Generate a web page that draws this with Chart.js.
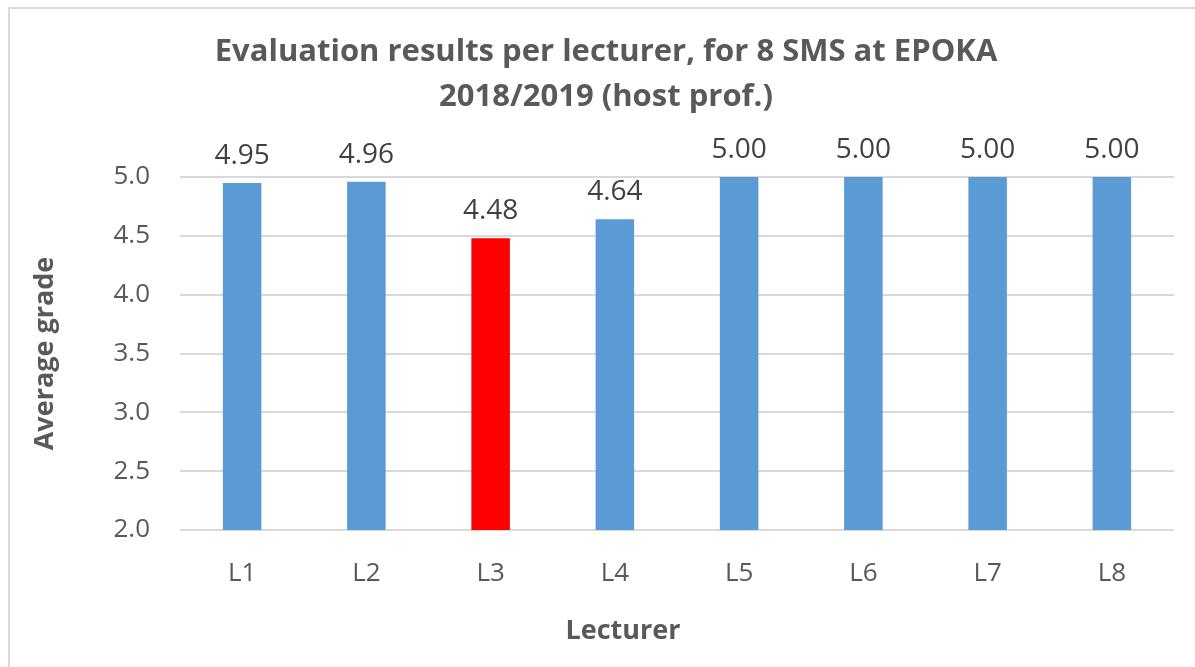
<!DOCTYPE html>
<html>
<head>
<meta charset="utf-8">
<script src="https://cdn.jsdelivr.net/npm/chart.js@4"></script>
<style>
  html, body { margin: 0; padding: 0; background: #fff; overflow: hidden; }
  #frame { position: absolute; left: 8px; top: 7px; width: 1200px; height: 700px;
           border-left: 2px solid #d9d9d9; border-top: 2px solid #d9d9d9; }
  #wrap { position: absolute; left: 0; top: 0; width: 1195px; height: 667px; }
</style>
</head>
<body>
<div id="frame"></div>
<div id="wrap"><canvas id="myChart" width="1195" height="667"></canvas></div>
<script>
var lecturers = ["L1", "L2", "L3", "L4", "L5", "L6", "L7", "L8"];
var grades = [4.95, 4.96, 4.48, 4.64, 5.00, 5.00, 5.00, 5.00];
var barColors = ["#5b9bd5", "#5b9bd5", "#ff0000", "#5b9bd5", "#5b9bd5", "#5b9bd5", "#5b9bd5", "#5b9bd5"];
var titleLines = ["Evaluation results per lecturer, for 8 SMS at EPOKA", "2018/2019 (host prof.)"];
var xTitle = "Lecturer";
var yTitle = "Average grade";

var FONT = "'Open Sans', 'DejaVu Sans', sans-serif";

// value text over each bar
var valueLabels = {
  id: "valueLabels",
  afterDatasetsDraw: function(chart){
    var ctx = chart.ctx;
    var meta = chart.getDatasetMeta(0);
    ctx.save();
    ctx.font = "28px " + FONT;
    ctx.fillStyle = "#404040";
    ctx.textAlign = "center";
    ctx.textBaseline = "alphabetic";
    meta.data.forEach(function(bar, i){
      ctx.fillText(grades[i].toFixed(2), bar.x, bar.y - 19);
    });
    ctx.restore();
  }
};

// chart title and x axis title sit a bit left of the plot centre
var headings = {
  id: "headings",
  afterDraw: function(chart){
    var ctx = chart.ctx;
    ctx.save();
    ctx.fillStyle = "#595959";
    ctx.textAlign = "center";
    ctx.textBaseline = "middle";
    ctx.font = "bold 31px " + FONT;
    ctx.fillText(titleLines[0], 606, 52);
    ctx.fillText(titleLines[1], 606, 97);
    ctx.font = "bold 27px " + FONT;
    ctx.fillText(xTitle, 623, 631);
    ctx.restore();
  }
};

var ctx = document.getElementById("myChart");
var chart = new Chart(ctx, {
  type: "bar",
  data: {
    labels: lecturers,
    datasets: [{
      data: grades,
      backgroundColor: barColors,
      borderWidth: 0,
      barPercentage: 1,
      categoryPercentage: 0.31
    }]
  },
  options: {
    responsive: false,
    animation: false,
    layout: { padding: { left: 10, right: 21, top: 177, bottom: 10 } },
    plugins: {
      legend: { display: false },
      tooltip: { enabled: false },
      title: { display: false }
    },
    scales: {
      x: {
        grid: { display: false, drawTicks: false },
        border: { display: false },
        ticks: { color: "#595959", font: { family: FONT, size: 26 }, padding: 28 },
        afterFit: function(scale){ scale.height = 127; }
      },
      y: {
        min: 2,
        max: 5,
        ticks: {
          stepSize: 0.5,
          color: "#595959",
          font: { family: FONT, size: 26 },
          padding: 30,
          callback: function(v){ return v.toFixed(1); }
        },
        grid: { color: "#d9d9d9", lineWidth: 2, drawTicks: false },
        border: { display: false },
        title: {
          display: true,
          text: yTitle,
          color: "#595959",
          font: { family: FONT, size: 27, weight: "bold" },
          padding: { top: 19, bottom: 0 }
        },
        afterFit: function(scale){ scale.width = 170; }
      }
    }
  },
  plugins: [valueLabels, headings]
});
</script>
</body>
</html>
